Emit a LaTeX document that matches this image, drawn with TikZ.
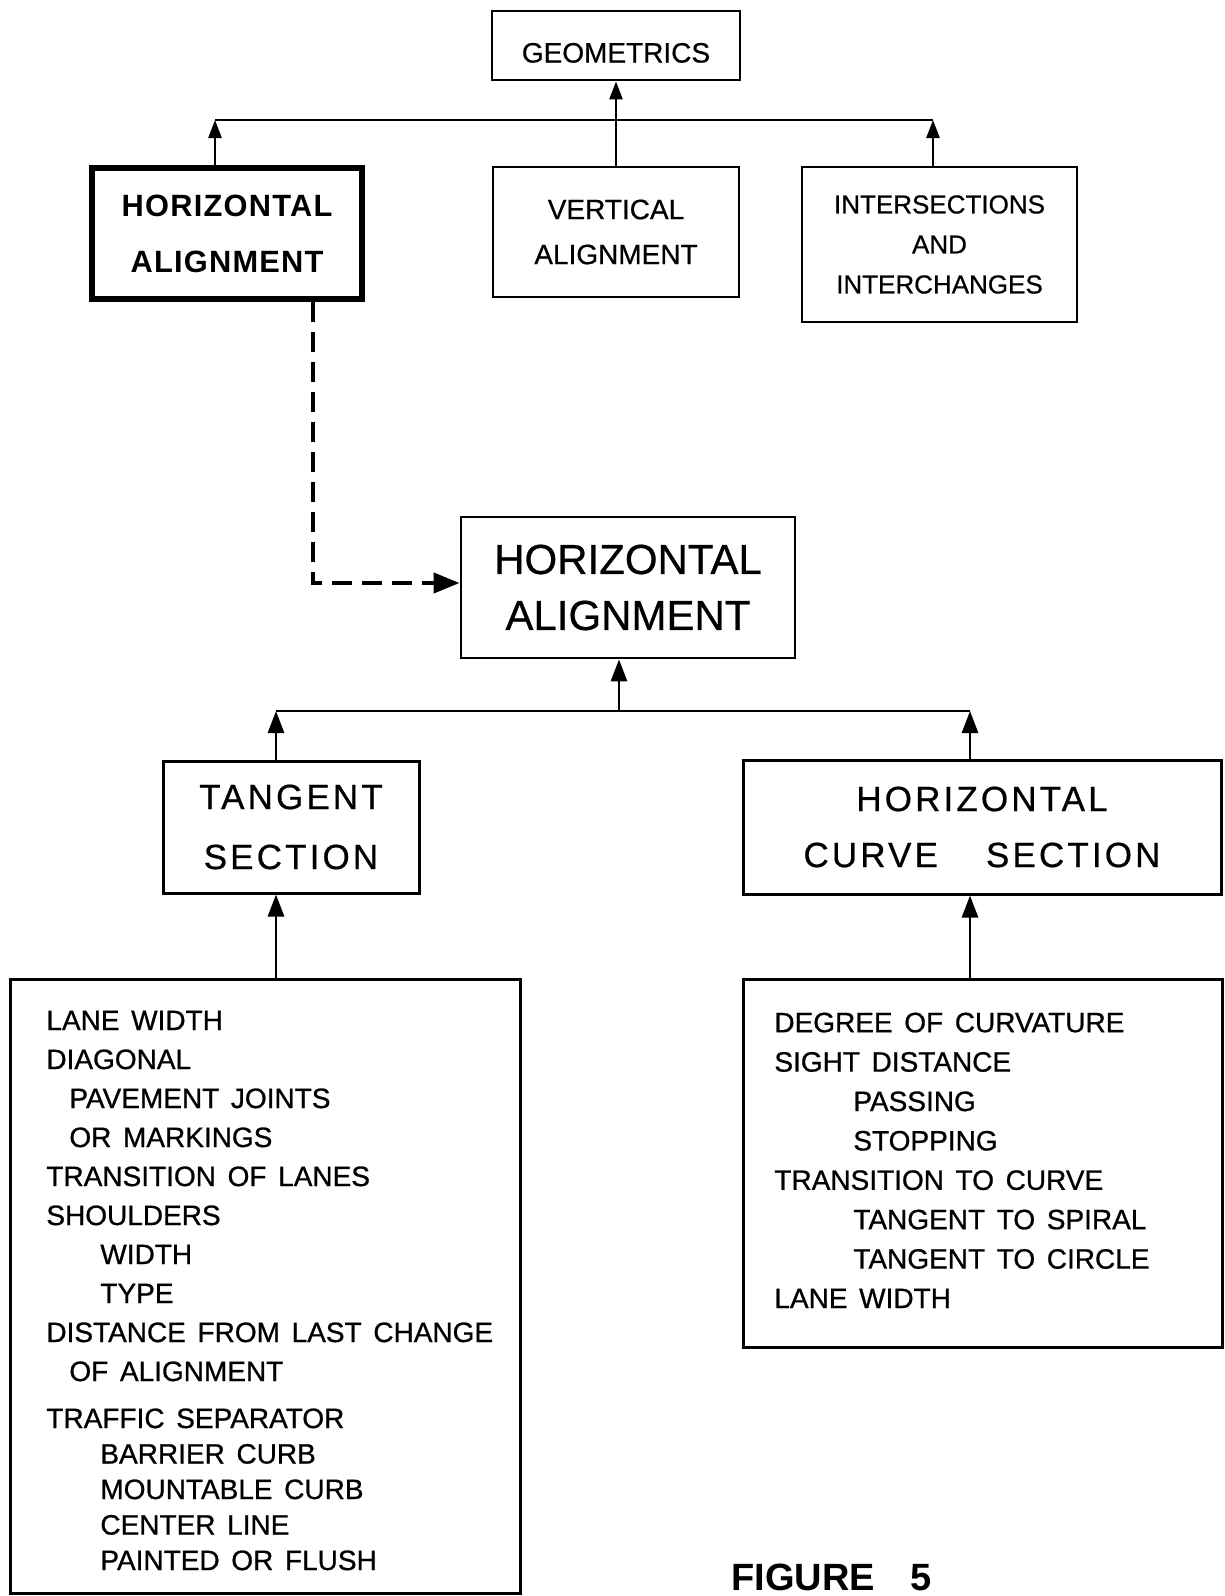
\documentclass[tikz,border=0pt]{standalone}
\usepackage{fontspec}
\setmainfont{Liberation Sans}[FakeBold=0.6]
\newfontfamily\lett{Liberation Sans}[WordSpace=1.5,FakeBold=0.8]
\newfontfamily\spaced{Liberation Sans}[LetterSpace=9,FakeBold=0.6]
\newfontfamily\thickf{Liberation Sans}[LetterSpace=4]
\newfontfamily\figf{Liberation Sans}
\usetikzlibrary{arrows.meta}
\tikzset{
  box/.style={draw, line width=1.4pt, inner sep=0pt, align=center},
  thickbox/.style={box, line width=3.2pt},
  conn/.style={line width=1.3pt},
  arrsmall/.style={conn, -{Triangle[length=9pt,width=6.5pt]}},
  arrbig/.style={conn, line width=1.4pt, -{Triangle[length=11pt,width=8pt]}},
  dasharr/.style={line width=2pt, dash pattern=on 10pt off 5pt, -{Triangle[length=13pt,width=10pt]}},
  listtext/.style={anchor=base west, inner sep=0pt, align=left}
}
\begin{document}
\begin{tikzpicture}[x=0.5pt,y=-0.5pt]
\useasboundingbox (0,0) rectangle (1225,1596);
\fill[white] (0,0) rectangle (1225,1596);

% top level
\node[box, minimum width=124pt, minimum height=34.5pt, text height=17pt, text depth=0pt, font=\fontsize{14pt}{17pt}\selectfont] (geom) at (616,45.5) {GEOMETRICS};
\node[thickbox, minimum width=135pt, minimum height=65.5pt, font=\thickf\bfseries\fontsize{15.4pt}{28pt}\selectfont] (hz) at (227,233.5) {HORIZONTAL\\ALIGNMENT};
\node[box, minimum width=123pt, minimum height=65pt, font=\fontsize{14pt}{22.5pt}\selectfont] (vert) at (616,232) {VERTICAL\\ALIGNMENT};
\node[box, minimum width=137.5pt, minimum height=77.5pt, font=\fontsize{13pt}{20pt}\selectfont] (inter) at (939.5,244.5) {INTERSECTIONS\\AND\\INTERCHANGES};

\coordinate (tbL) at (215,120);
\coordinate (tbR) at (933,120);
\draw[conn] (tbL) -- (tbR);
\draw[arrsmall] (hz.north -| tbL) -- (tbL);
\draw[arrsmall] (inter.north -| tbR) -- (tbR);
\draw[arrsmall] (vert.north) -- (geom.south);

% middle
\node[box, minimum width=167pt, minimum height=70.5pt, font=\fontsize{21pt}{28pt}\selectfont] (main) at (628,587.5) {HORIZONTAL\\ALIGNMENT};
\coordinate (dc) at (313,583);
\draw[dasharr] (hz.south -| dc) -- (dc) -- (main.west |- dc);

\node[box, line width=1.5pt, minimum width=128pt, minimum height=66pt, font=\spaced\fontsize{17.5pt}{30pt}\selectfont] (tang) at (291,827) {TANGENT\\SECTION};
\node[box, line width=1.5pt, minimum width=239pt, minimum height=67pt, font=\spaced\fontsize{17.5pt}{28pt}\selectfont] (curve) at (982,827) {HORIZONTAL\\CURVE\hspace{24pt}SECTION};

\coordinate (lbL) at (276,711);
\coordinate (lbR) at (970,711);
\coordinate (lbM) at (619,711);
\draw[conn, line width=1.4pt] (lbL) -- (lbR);
\draw[arrbig] (lbM) -- (lbM |- main.south);
\draw[arrbig] (tang.north -| lbL) -- (lbL);
\draw[arrbig] (curve.north -| lbR) -- (lbR);

% lists
\node[box, line width=1.5pt, minimum width=255pt, minimum height=307pt] (tanlist) at (265,1286) {};
\node[box, line width=1.5pt, minimum width=239.5pt, minimum height=184pt] (curvelist) at (982.5,1163) {};
\draw[arrbig] (tanlist.north -| lbL) -- (tang.south -| lbL);
\draw[arrbig] (curvelist.north -| lbR) -- (curve.south -| lbR);

% base anchor = baseline of the last line
\node[listtext, font=\lett\fontsize{14pt}{19.5pt}\selectfont] (tantext) at (46,1570) {%
LANE WIDTH\\
DIAGONAL\\
\hspace*{11.5pt}PAVEMENT JOINTS\\
\hspace*{11.5pt}OR MARKINGS\\
TRANSITION OF LANES\\
SHOULDERS\\
\hspace*{27pt}WIDTH\\
\hspace*{27pt}TYPE\\
DISTANCE FROM LAST CHANGE\\
\hspace*{11.5pt}OF ALIGNMENT\\[4pt]
TRAFFIC SEPARATOR\\[-1.75pt]
\hspace*{27pt}BARRIER CURB\\[-1.75pt]
\hspace*{27pt}MOUNTABLE CURB\\[-1.75pt]
\hspace*{27pt}CENTER LINE\\[-1.75pt]
\hspace*{27pt}PAINTED OR FLUSH};

\node[listtext, font=\lett\fontsize{14pt}{19.7pt}\selectfont] (curvetext) at (774,1308) {%
DEGREE OF CURVATURE\\
SIGHT DISTANCE\\
\hspace*{39.5pt}PASSING\\
\hspace*{39.5pt}STOPPING\\
TRANSITION TO CURVE\\
\hspace*{39.5pt}TANGENT TO SPIRAL\\
\hspace*{39.5pt}TANGENT TO CIRCLE\\
LANE WIDTH};

\node[listtext, font=\figf\bfseries\fontsize{19pt}{22pt}\selectfont] (fig) at (731,1590) {FIGURE\hspace{18pt}5};
\end{tikzpicture}
\end{document}
